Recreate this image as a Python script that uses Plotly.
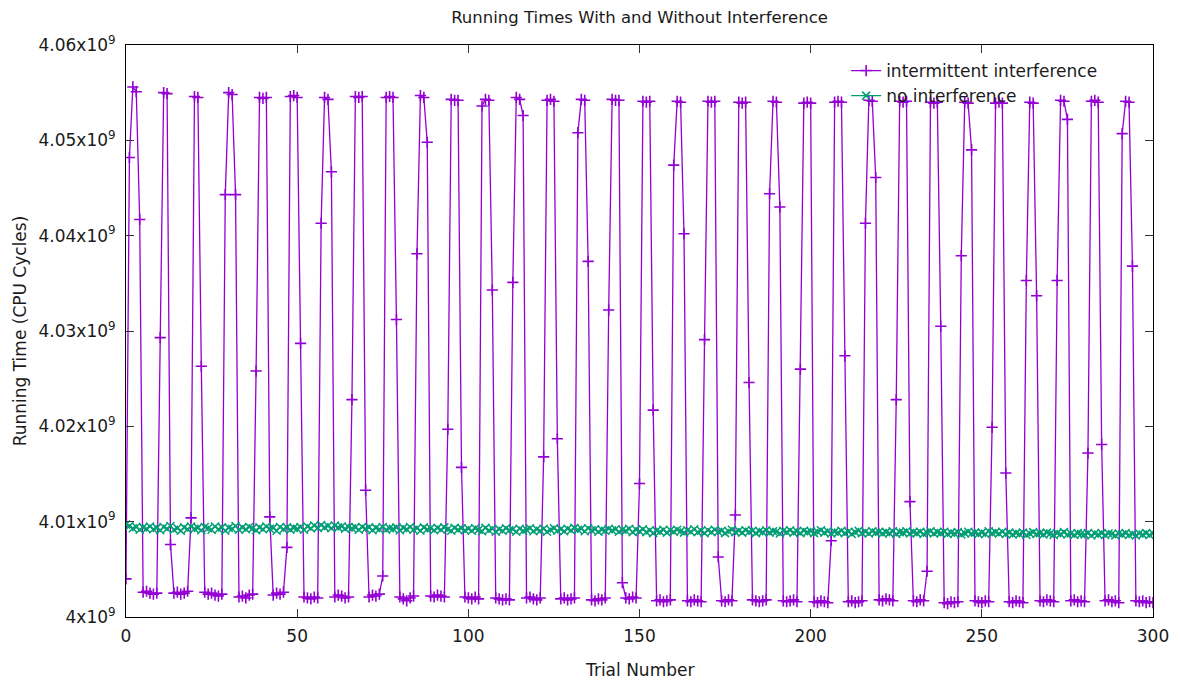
import plotly.graph_objects as go

# Trial numbers 0..300
trials = list(range(301))

# Running time with intermittent interference (units of 10^9 CPU cycles)
intermittent = [
    4.0040, 4.0482, 4.0556, 4.0551, 4.0417, 4.0026, 4.0027, 4.0025, 4.0024, 4.0025,
    4.0293, 4.0550, 4.0549, 4.0076, 4.0025, 4.0026, 4.0024, 4.0025, 4.0027, 4.0104,
    4.0546, 4.0545, 4.0263, 4.0026, 4.0024, 4.0025, 4.0023, 4.0022, 4.0024, 4.0443,
    4.0550, 4.0548, 4.0443, 4.0021, 4.0022, 4.0020, 4.0023, 4.0024, 4.0258, 4.0545,
    4.0544, 4.0545, 4.0105, 4.0023, 4.0025, 4.0024, 4.0026, 4.0073, 4.0546, 4.0547,
    4.0545, 4.0287, 4.0021, 4.0020, 4.0019, 4.0021, 4.0020, 4.0413, 4.0545, 4.0543,
    4.0467, 4.0021, 4.0023, 4.0022, 4.0020, 4.0021, 4.0228, 4.0546, 4.0545, 4.0546,
    4.0133, 4.0021, 4.0023, 4.0022, 4.0024, 4.0043, 4.0545, 4.0546, 4.0545, 4.0312,
    4.0021, 4.0019, 4.0017, 4.0020, 4.0022, 4.0381, 4.0547, 4.0545, 4.0498, 4.0022,
    4.0021, 4.0023, 4.0022, 4.0021, 4.0197, 4.0543, 4.0542, 4.0542, 4.0157, 4.0021,
    4.0020, 4.0019, 4.0021, 4.0019, 4.0536, 4.0543, 4.0542, 4.0343, 4.0020, 4.0019,
    4.0018, 4.0019, 4.0018, 4.0351, 4.0545, 4.0543, 4.0526, 4.0020, 4.0021, 4.0019,
    4.0018, 4.0020, 4.0168, 4.0542, 4.0543, 4.0541, 4.0187, 4.0019, 4.0020, 4.0018,
    4.0019, 4.0020, 4.0508, 4.0543, 4.0542, 4.0373, 4.0018, 4.0017, 4.0019, 4.0018,
    4.0020, 4.0322, 4.0543, 4.0542, 4.0542, 4.0036, 4.0020, 4.0019, 4.0021, 4.0020,
    4.0140, 4.0541, 4.0540, 4.0541, 4.0217, 4.0017, 4.0018, 4.0016, 4.0017, 4.0018,
    4.0474, 4.0541, 4.0540, 4.0402, 4.0017, 4.0016, 4.0018, 4.0017, 4.0016, 4.0291,
    4.0541, 4.0540, 4.0541, 4.0063, 4.0017, 4.0016, 4.0018, 4.0017, 4.0107, 4.0540,
    4.0539, 4.0540, 4.0246, 4.0018, 4.0017, 4.0016, 4.0017, 4.0018, 4.0444, 4.0541,
    4.0540, 4.0430, 4.0017, 4.0016, 4.0017, 4.0018, 4.0016, 4.0260, 4.0539, 4.0540,
    4.0539, 4.0016, 4.0015, 4.0017, 4.0016, 4.0015, 4.0080, 4.0540, 4.0541, 4.0540,
    4.0274, 4.0016, 4.0017, 4.0015, 4.0016, 4.0017, 4.0413, 4.0542, 4.0541, 4.0461,
    4.0018, 4.0017, 4.0019, 4.0018, 4.0017, 4.0228, 4.0541, 4.0540, 4.0541, 4.0121,
    4.0017, 4.0016, 4.0018, 4.0017, 4.0048, 4.0540, 4.0539, 4.0540, 4.0305, 4.0015,
    4.0014, 4.0016, 4.0015, 4.0016, 4.0379, 4.0540, 4.0539, 4.0490, 4.0017, 4.0016,
    4.0015, 4.0017, 4.0016, 4.0199, 4.0539, 4.0540, 4.0539, 4.0151, 4.0016, 4.0015,
    4.0017, 4.0016, 4.0015, 4.0353, 4.0540, 4.0539, 4.0337, 4.0017, 4.0016, 4.0018,
    4.0017, 4.0016, 4.0353, 4.0542, 4.0541, 4.0522, 4.0017, 4.0018, 4.0016, 4.0017,
    4.0016, 4.0172, 4.0541, 4.0542, 4.0540, 4.0181, 4.0017, 4.0018, 4.0016, 4.0017,
    4.0015, 4.0507, 4.0541, 4.0540, 4.0368, 4.0017, 4.0016, 4.0017, 4.0015, 4.0016,
    4.0015,
]

# Running time with no interference (units of 10^9 CPU cycles)
no_interference = [
    4.00970, 4.00955, 4.00930, 4.00945, 4.00915, 4.00940, 4.00925, 4.00950, 4.00920, 4.00935,
    4.00910, 4.00945, 4.00925, 4.00955, 4.00915, 4.00930, 4.00905, 4.00940, 4.00920, 4.00950,
    4.00925, 4.00935, 4.00910, 4.00945, 4.00930, 4.00915, 4.00950, 4.00920, 4.00940, 4.00905,
    4.00935, 4.00925, 4.00955, 4.00915, 4.00940, 4.00920, 4.00945, 4.00930, 4.00910, 4.00940,
    4.00920, 4.00950, 4.00925, 4.00935, 4.00905, 4.00945, 4.00920, 4.00940, 4.00915, 4.00935,
    4.00925, 4.00945, 4.00915, 4.00950, 4.00930, 4.00960, 4.00935, 4.00965, 4.00940, 4.00955,
    4.00930, 4.00960, 4.00940, 4.00950, 4.00925, 4.00945, 4.00930, 4.00940, 4.00915, 4.00945,
    4.00925, 4.00940, 4.00910, 4.00935, 4.00920, 4.00945, 4.00915, 4.00930, 4.00925, 4.00940,
    4.00910, 4.00935, 4.00920, 4.00945, 4.00915, 4.00930, 4.00905, 4.00940, 4.00920, 4.00930,
    4.00910, 4.00935, 4.00915, 4.00940, 4.00920, 4.00905, 4.00935, 4.00915, 4.00930, 4.00910,
    4.00925, 4.00905, 4.00930, 4.00915, 4.00900, 4.00935, 4.00910, 4.00925, 4.00895, 4.00920,
    4.00905, 4.00930, 4.00910, 4.00920, 4.00895, 4.00925, 4.00905, 4.00915, 4.00930, 4.00900,
    4.00920, 4.00905, 4.00925, 4.00895, 4.00915, 4.00930, 4.00905, 4.00920, 4.00900, 4.00925,
    4.00910, 4.00935, 4.00915, 4.00925, 4.00900, 4.00930, 4.00910, 4.00920, 4.00895, 4.00915,
    4.00905, 4.00925, 4.00910, 4.00920, 4.00895, 4.00915, 4.00905, 4.00925, 4.00890, 4.00915,
    4.00900, 4.00920, 4.00890, 4.00910, 4.00880, 4.00905, 4.00895, 4.00915, 4.00885, 4.00910,
    4.00895, 4.00915, 4.00900, 4.00885, 4.00910, 4.00895, 4.00920, 4.00890, 4.00905, 4.00880,
    4.00910, 4.00890, 4.00915, 4.00895, 4.00905, 4.00880, 4.00900, 4.00915, 4.00890, 4.00905,
    4.00885, 4.00910, 4.00895, 4.00905, 4.00880, 4.00900, 4.00890, 4.00910, 4.00885, 4.00900,
    4.00895, 4.00875, 4.00905, 4.00890, 4.00910, 4.00885, 4.00900, 4.00880, 4.00905, 4.00890,
    4.00900, 4.00880, 4.00895, 4.00910, 4.00885, 4.00900, 4.00875, 4.00895, 4.00885, 4.00905,
    4.00880, 4.00895, 4.00870, 4.00890, 4.00905, 4.00880, 4.00895, 4.00875, 4.00900, 4.00885,
    4.00895, 4.00875, 4.00890, 4.00880, 4.00900, 4.00870, 4.00890, 4.00885, 4.00900, 4.00875,
    4.00890, 4.00880, 4.00895, 4.00870, 4.00885, 4.00900, 4.00875, 4.00890, 4.00880, 4.00895,
    4.00870, 4.00885, 4.00875, 4.00890, 4.00865, 4.00880, 4.00895, 4.00875, 4.00885, 4.00870,
    4.00885, 4.00870, 4.00900, 4.00880, 4.00890, 4.00875, 4.00895, 4.00870, 4.00885, 4.00865,
    4.00880, 4.00870, 4.00885, 4.00860, 4.00875, 4.00890, 4.00870, 4.00880, 4.00865, 4.00885,
    4.00875, 4.00860, 4.00880, 4.00870, 4.00890, 4.00865, 4.00875, 4.00860, 4.00880, 4.00870,
    4.00865, 4.00880, 4.00855, 4.00875, 4.00865, 4.00880, 4.00860, 4.00875, 4.00870, 4.00855,
    4.00875, 4.00865, 4.00880, 4.00860, 4.00870, 4.00855, 4.00875, 4.00865, 4.00880, 4.00860,
    4.00875,
]

x_ticks = [0, 50, 100, 150, 200, 250, 300]
y_ticks = [4.00, 4.01, 4.02, 4.03, 4.04, 4.05, 4.06]
y_tick_labels = ["4x10<sup>9</sup>", "4.01x10<sup>9</sup>", "4.02x10<sup>9</sup>",
                 "4.03x10<sup>9</sup>", "4.04x10<sup>9</sup>", "4.05x10<sup>9</sup>",
                 "4.06x10<sup>9</sup>"]

FONT = "DejaVu Sans"
TXT = "#1a1a1a"
FS = 17

# The page body adds an 8px offset; the figure is sized to compensate.
W, H = 1173, 673
L, R, T, B = 118, 25, 37, 64
PW, PH = W - L - R, H - T - B

fig = go.Figure()
fig.add_trace(go.Scatter(
    x=trials, y=intermittent, mode="lines+markers", name="intermittent interference",
    line=dict(color="#9400D3", width=1.3),
    marker=dict(symbol="cross-thin-open", size=8, line=dict(color="#9400D3", width=1.6)),
))
fig.add_trace(go.Scatter(
    x=trials[:len(no_interference)], y=no_interference, mode="lines+markers", name="no interference",
    line=dict(color="#009E73", width=1.3),
    marker=dict(symbol="x-thin-open", size=8, line=dict(color="#009E73", width=1.5)),
))

axis_common = dict(
    showgrid=False, zeroline=False, showline=True, linecolor="black", linewidth=1,
    mirror="allticks", ticks="inside", ticklen=8, tickwidth=1, tickcolor="#333",
    tickfont=dict(family=FONT, size=FS, color=TXT),
)

fig.update_xaxes(range=[0, 300], tickvals=x_ticks, ticktext=[str(v) for v in x_ticks],
                 ticklabelstandoff=4, **axis_common)
fig.update_yaxes(range=[4.0, 4.06], tickvals=y_ticks, ticktext=y_tick_labels,
                 ticklabelstandoff=6, **axis_common)

fig.update_layout(
    width=W, height=H, autosize=False,
    margin=dict(l=L, r=R, t=T, b=B),
    plot_bgcolor="white", paper_bgcolor="white",
    font=dict(family=FONT, size=FS, color=TXT),
    title=dict(text="Running Times With and Without Interference", x=0.5, xref="paper",
               xanchor="center", y=1 - 9 / H, yanchor="middle",
               font=dict(family=FONT, size=16.5, color=TXT)),
    showlegend=True,
    legend=dict(x=(1105 - 8 - L) / PW, xanchor="right", y=1 - 8 / PH, yanchor="top",
                bgcolor="rgba(255,255,255,0)", borderwidth=0,
                font=dict(family=FONT, size=FS, color=TXT), tracegroupgap=0),
    annotations=[
        dict(text="Trial Number", xref="paper", yref="paper", x=0.5, y=-(670 - 617) / PH,
             xanchor="center", yanchor="middle", showarrow=False,
             font=dict(family=FONT, size=FS, color=TXT)),
        dict(text="Running Time (CPU Cycles)", xref="paper", yref="paper",
             x=(20 - 126) / PW, y=0.5, xanchor="center", yanchor="middle",
             textangle=-90, showarrow=False, font=dict(family=FONT, size=FS, color=TXT)),
    ],
)

fig.write_html("out.html")
